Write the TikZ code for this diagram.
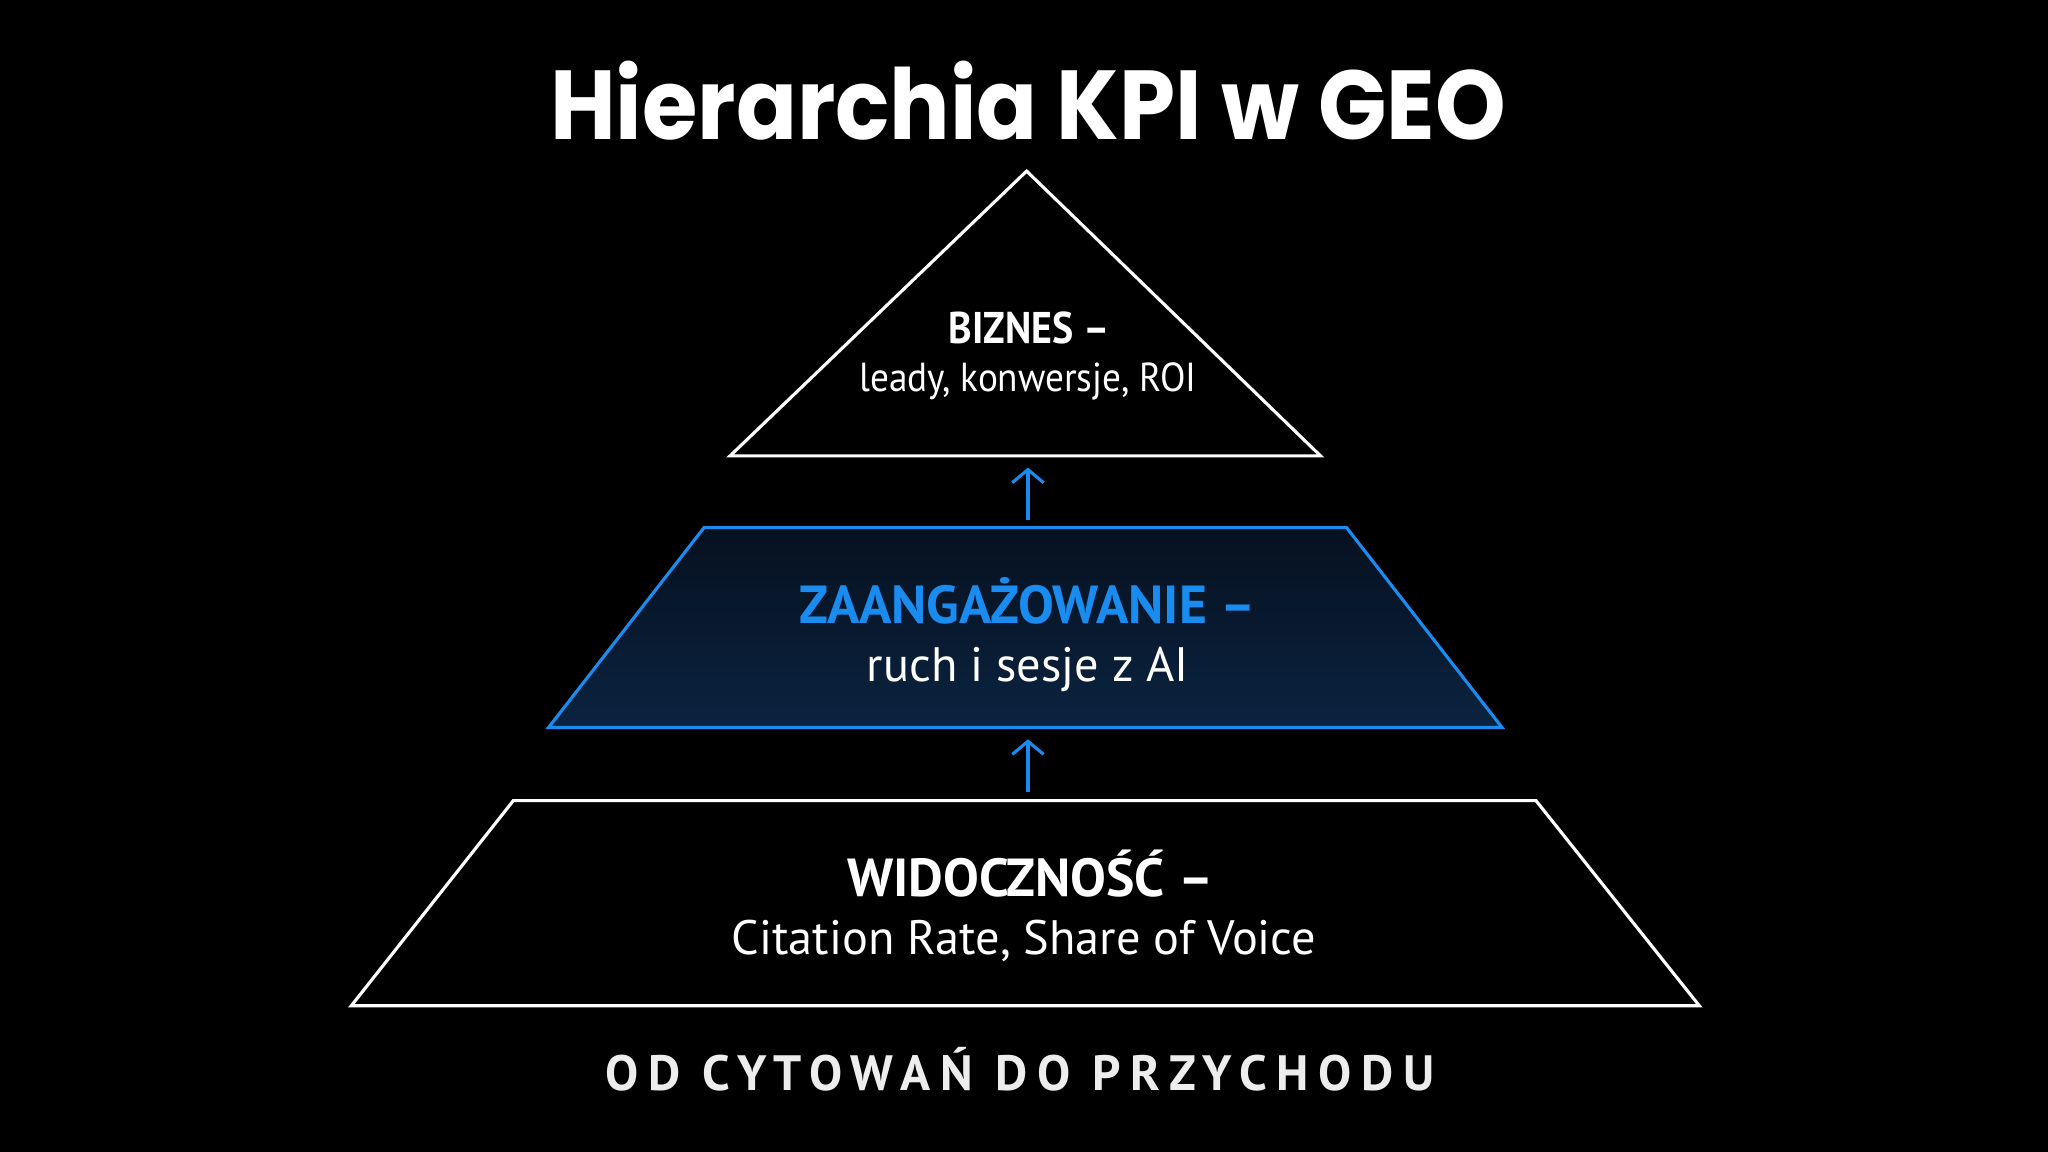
\documentclass[tikz,border=0pt]{standalone}
\usepackage{fontspec}
\usetikzlibrary{arrows.meta}
\setmainfont{PT Sans}
\newfontfamily\titlefont{Poppins}
\newfontfamily\capsfont{PT Sans}[LetterSpace=19.5]
\definecolor{accent}{HTML}{1A8CF0}
\definecolor{navytop}{HTML}{06111F}
\definecolor{navybot}{HTML}{0B2340}
\definecolor{capsgray}{HTML}{EDEDED}
\tikzset{
  layer/.style={line width=2.4pt, line join=miter},
  uparrow/.style={draw=accent, line width=2.4pt, -{Straight Barb[length=10pt,width=24pt,line width=2.4pt]}},
  headtxt/.style={anchor=base, font=\bfseries\fontsize{35}{40}\selectfont},
  subtxt/.style={anchor=base, text=white, font=\fontsize{33}{40}\selectfont},
}
\begin{document}
\begin{tikzpicture}[x=1pt,y=-1pt]
\fill[black] (0,0) rectangle (1568,882);
\useasboundingbox (0,0) rectangle (1568,882);
% title
\node[anchor=base, text=white, font=\titlefont\bfseries\fontsize{75}{80}\selectfont] (title) at (787,107) {\scalebox{0.917}[1]{Hierarchia KPI w GEO}};
% top triangle
\coordinate (tA) at (786,131);
\coordinate (tL) at (559,349);
\coordinate (tR) at (1011,349);
\draw[layer, white] (tA) -- (tR) -- (tL) -- cycle;
% middle trapezoid
\coordinate (mTL) at (539,404);
\coordinate (mTR) at (1031,404);
\coordinate (mBR) at (1150,557);
\coordinate (mBL) at (420,557);
\shade[top color=navytop, bottom color=navybot] (mTL) -- (mTR) -- (mBR) -- (mBL) -- cycle;
\draw[layer, accent] (mTL) -- (mTR) -- (mBR) -- (mBL) -- cycle;
% bottom trapezoid
\coordinate (bTL) at (393,613);
\coordinate (bTR) at (1176,613);
\coordinate (bBR) at (1301,770);
\coordinate (bBL) at (269,770);
\draw[layer, white] (bTL) -- (bTR) -- (bBR) -- (bBL) -- cycle;
% arrows
\coordinate (a1s) at (787,398);
\coordinate (a1e) at (787,358);
\coordinate (a2s) at (787,606);
\coordinate (a2e) at (787,566);
\draw[uparrow] (a1s) -- (a1e);
\draw[uparrow] (a2s) -- (a2e);
% texts
\node[headtxt, text=white, font=\bfseries\fontsize{34}{40}\selectfont] (biz) at (788,263) {\scalebox{0.9}[1]{BIZNES –}};
\node[subtxt, font=\fontsize{31}{40}\selectfont] (bizs) at (787,300) {\scalebox{0.92}[1]{leady, konwersje, ROI}};
\node[headtxt, text=accent, font=\bfseries\fontsize{41}{44}\selectfont] (zaa) at (787,477) {ZAANGAŻOWANIE –};
\node[subtxt, font=\fontsize{37}{40}\selectfont] (zaas) at (787,522) {ruch i sesje z AI};
\node[headtxt, text=white, font=\bfseries\fontsize{41}{44}\selectfont] (wid) at (789,686) {WIDOCZNOŚĆ –};
\node[subtxt, font=\fontsize{37}{40}\selectfont] (wids) at (784,731) {Citation Rate, Share of Voice};
\node[anchor=base, text=capsgray, font=\capsfont\bfseries\fontsize{38}{40}\selectfont] (foot) at (781,835) {OD CYTOWAŃ DO PRZYCHODU};
\end{tikzpicture}
\end{document}
